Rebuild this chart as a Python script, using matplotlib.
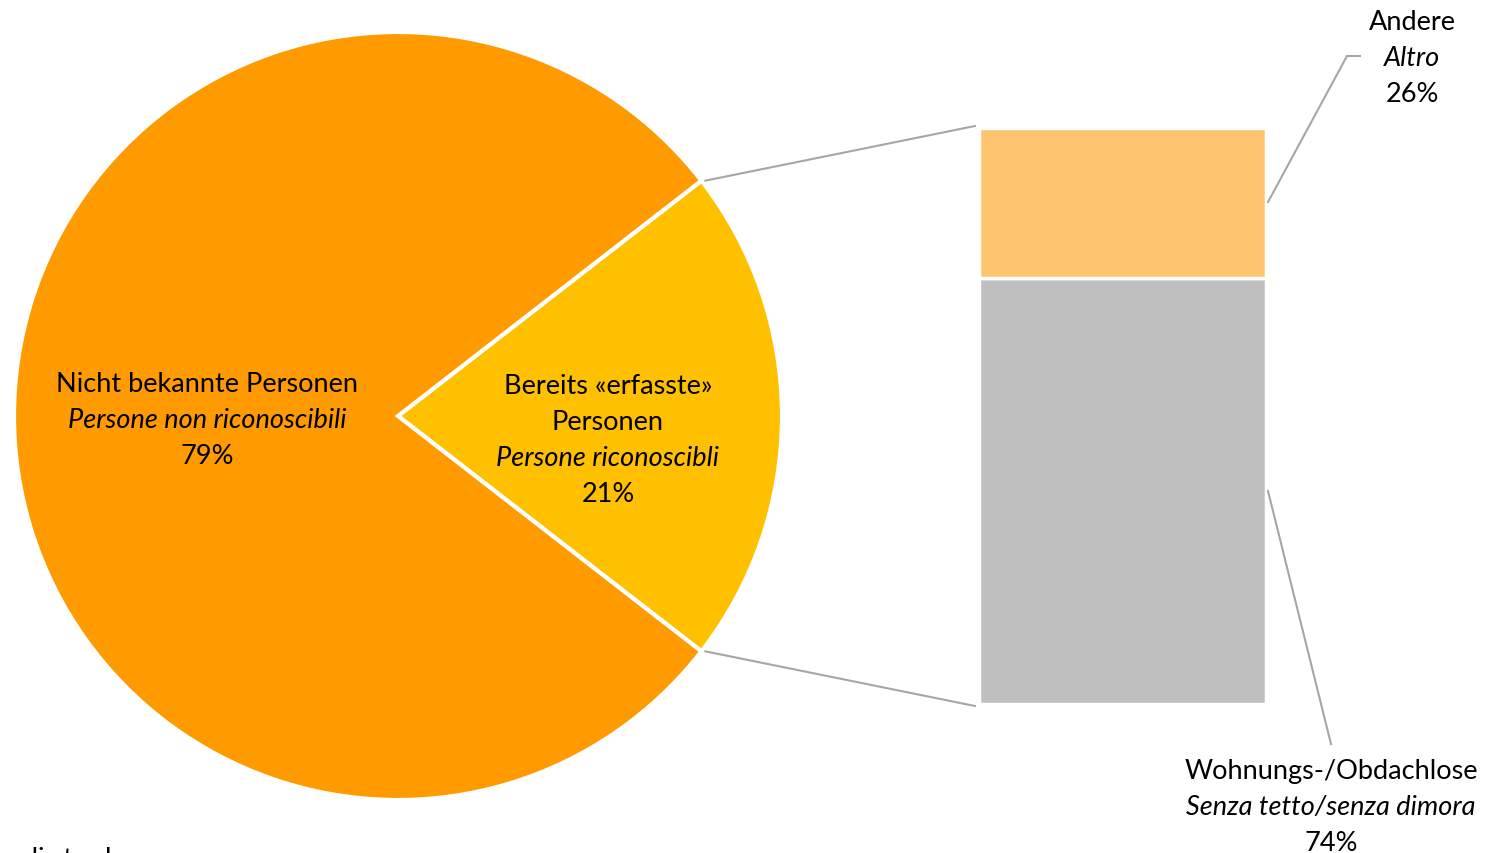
import matplotlib.pyplot as plt
import numpy as np

plt.rcParams['font.family'] = ['Lato', 'DejaVu Sans']

# Pie data (share of persons)
pie_labels_de = [["Bereits «erfasste»", "Personen"], ["Nicht bekannte Personen"]]
pie_labels_it = ["Persone riconoscibli", "Persone non riconoscibili"]
pie_values = [21, 79]
pie_colors = ["#FFC000", "#FF9A00"]

# Bar data (breakdown of the 21%)
bar_labels_de = ["Wohnungs-/Obdachlose", "Andere"]
bar_labels_it = ["Senza tetto/senza dimora", "Altro"]
bar_values = [74, 26]
bar_colors = ["#BFBFBF", "#FFC46E"]

W, H = 1493, 854
fig = plt.figure(figsize=(W / 100, H / 100), dpi=100)
ax = fig.add_axes([0, 0, 1, 1])

# pie
cx, cy, r = 398, H - 417, 384
start = -pie_values[0] / 100 * 360 / 2
ax.pie(pie_values, colors=pie_colors, startangle=start,
       center=(cx, cy), radius=r, frame=True,
       wedgeprops=dict(edgecolor='white', linewidth=3))
ax.set_xlim(0, W)
ax.set_ylim(0, H)
ax.set_aspect('equal')
ax.axis('off')

# stacked bar
bx, bw = 1122.5, 287
btop, bbot = H - 129, H - 705
scale = (btop - bbot) / sum(bar_values)
bottom = bbot
for v, c in zip(bar_values, bar_colors):
    ax.bar(bx, v * scale, width=bw, bottom=bottom, color=c,
           edgecolor='white', linewidth=2.5)
    bottom += v * scale

# connector lines from pie to bar
a = np.deg2rad(start)
p_lo = (cx + r * np.cos(a), cy + r * np.sin(a))
p_hi = (cx + r * np.cos(-a), cy + r * np.sin(-a))
lc = "#A6A6A6"
ax.plot([p_hi[0] + 4, bx - bw / 2 - 4], [p_hi[1], btop + 2], color=lc, lw=1.5)
ax.plot([p_lo[0] + 4, bx - bw / 2 - 4], [p_lo[1], bbot - 2], color=lc, lw=1.5)


def label_block(x, y_top, lines, italic_idx, fs=19.5, step=36):
    for i, s in enumerate(lines):
        ax.text(x, H - (y_top + i * step), s, ha='center', va='center',
                fontsize=fs, style='italic' if i == italic_idx else 'normal')


# pie labels
label_block(207, 385, pie_labels_de[1] + [pie_labels_it[1], f"{pie_values[1]}%"], 1)
label_block(608, 387, pie_labels_de[0] + [pie_labels_it[0], f"{pie_values[0]}%"], 2)

# bar labels with leader lines
ax.plot([1268, 1347, 1360], [H - 203, H - 57, H - 57], color=lc, lw=1.5)
label_block(1412, 23, [bar_labels_de[1], bar_labels_it[1], f"{bar_values[1]}%"], 1)

ax.plot([1268, 1331], [H - 492, H - 745], color=lc, lw=1.5)
label_block(1331, 772, [bar_labels_de[0], bar_labels_it[0], f"{bar_values[0]}%"], 1)

# leftover text clipped at the bottom-left edge
ax.text(125, H - 860, "Persone di strada", ha='right', va='center', fontsize=19.5)

fig.savefig("out.png", dpi=100)
